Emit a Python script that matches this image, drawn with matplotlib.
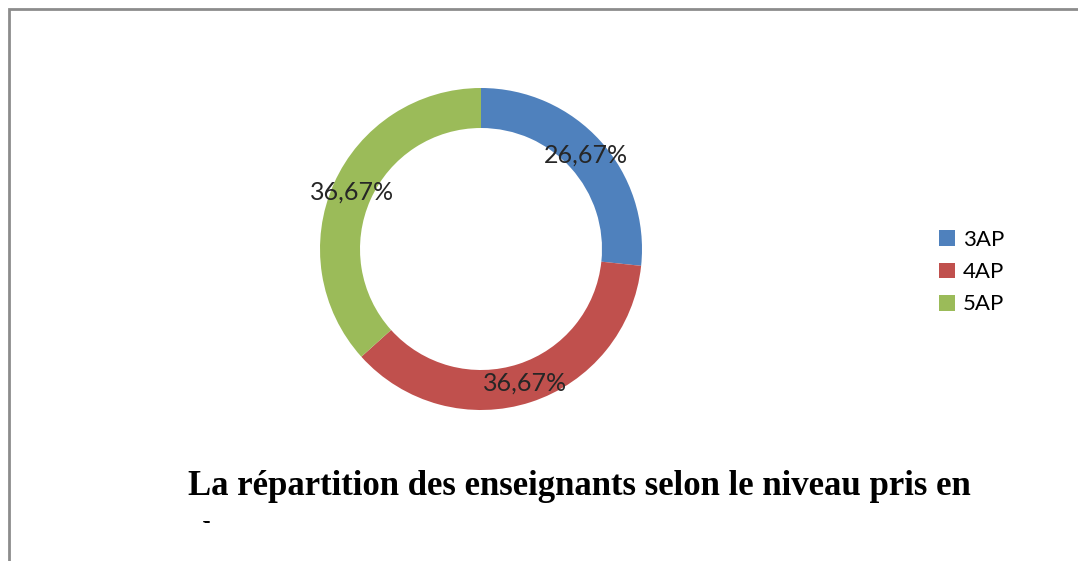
import matplotlib
matplotlib.use("Agg")
import matplotlib.pyplot as plt
from matplotlib.patches import Rectangle
from matplotlib.transforms import Bbox

# donnees
niveaux = ["3AP", "4AP", "5AP"]
pourcentages = [26.67, 36.67, 36.67]
couleurs = ["#4F81BD", "#C0504D", "#9BBB59"]
titre = "La répartition des enseignants selon le niveau pris en\ncharge"

W, H = 1078, 561
fig = plt.figure(figsize=(W / 100, H / 100), dpi=100)

# cadre gris (seuls haut et gauche visibles)
fig.patches.append(Rectangle((9 / W, -0.1), 1.2, (H - 9) / H + 0.1,
                             transform=fig.transFigure, fill=False,
                             edgecolor="#8C8C8C", linewidth=2))

# anneau
cx, cy, R = 481, H - 249, 161
half = 175
ax = fig.add_axes([(cx - half) / W, (cy - half) / H, 2 * half / W, 2 * half / H])
lim = half / R
wedges, _, autotexts = ax.pie(
    pourcentages, colors=couleurs, startangle=90, counterclock=False,
    radius=1, wedgeprops=dict(width=40 / R, linewidth=0),
    autopct=lambda p: f"{p:.2f}".replace(".", ",") + "%",
    pctdistance=141 / R, textprops=dict(fontsize=18, color="#262626", family="Lato"))
ax.set_xlim(-lim, lim)
ax.set_ylim(-lim, lim)
ax.set_aspect("equal")
ax.axis("off")

# legende
fig.legend(wedges, niveaux, loc="upper left", bbox_to_anchor=(919 / W, 1 - 210 / H),
           frameon=False, handlelength=0.72, handleheight=0.72, handletextpad=0.35,
           labelspacing=0.55, prop=dict(family="Lato", size=16))

# titre (deuxieme ligne coupee)
tax = fig.add_axes([0, 0, 1, 1])
tax.axis("off")
t = tax.text(188 / W, 1 - 470 / H, titre, transform=tax.transAxes,
             ha="left", va="top", fontsize=25, fontweight="bold",
             family="Liberation Serif", linespacing=1.7)
t.set_clip_box(Bbox.from_extents(0, H - 523, W, H))
t.set_clip_on(True)

fig.savefig("out.png", dpi=100)
